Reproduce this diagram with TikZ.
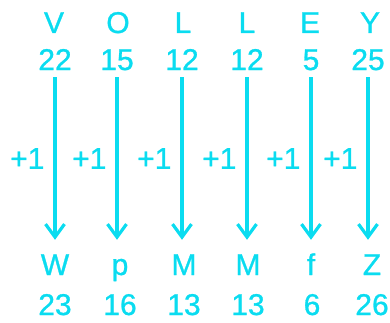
\documentclass[tikz,border=0pt]{standalone}
\usepackage{fontspec}
\setmainfont{Liberation Sans}[BoldFont=Liberation Sans, BoldFeatures={FakeBold=0.9}]
\usetikzlibrary{arrows.meta}
\definecolor{shiftcyan}{RGB}{10,220,240}
\tikzset{
    letter/.style={anchor=base, text=shiftcyan, text height=21pt, text depth=0pt, inner ysep=14pt, font=\fontsize{30}{31}\selectfont\bfseries},
    code/.style={anchor=base, text=shiftcyan, text height=21pt, text depth=0pt, inner ysep=7pt, font=\fontsize{30}{31}\selectfont\bfseries},
    plusone/.style={draw=shiftcyan, line width=3.2pt, -{Straight Barb[length=13pt, width=19pt]}}
}
\begin{document}
\begin{tikzpicture}[x=1pt, y=1pt]
        \useasboundingbox (0, 0) rectangle (390, 322);

        % Plain word
        \node[letter] (v) at (54, 289) {V};
        \node[letter] (o) at (118, 289) {O};
        \node[letter] (l1) at (183, 289) {L};
        \node[letter] (l2) at (247, 289) {L};
        \node[letter] (e) at (310, 289) {E};
        \node[letter] (y) at (370, 289) {Y};

        % Plain positions
        \node[code] (pv) at (55, 252) {22};
        \node[code] (po) at (117, 252) {15};
        \node[code] (pl1) at (182, 252) {12};
        \node[code] (pl2) at (247, 252) {12};
        \node[code] (pe) at (311, 252) {5};
        \node[code] (py) at (368, 252) {25};

        % Coded word
        \node[letter] (w) at (55, 47) {W};
        \node[letter] (p) at (120, 47) {p};
        \node[letter] (m1) at (184, 47) {M};
        \node[letter] (m2) at (248, 47) {M};
        \node[letter] (f) at (311, 47) {f};
        \node[letter] (z) at (372, 47) {Z};

        % Coded positions
        \node[code] (cw) at (55, 7) {23};
        \node[code] (cp) at (120, 7) {16};
        \node[code] (cm1) at (184, 7) {13};
        \node[code] (cm2) at (248, 7) {13};
        \node[code] (cf) at (312, 7) {6};
        \node[code] (cz) at (372, 7) {26};

        % Shifts
        \draw[plusone] (pv.south) -- node[midway, left, inner xsep=9pt, text=shiftcyan, font=\fontsize{30}{31}\selectfont\bfseries] {+1} (pv.south |- w.north);
        \draw[plusone] (po.south) -- node[midway, left, inner xsep=9pt, text=shiftcyan, font=\fontsize{30}{31}\selectfont\bfseries] {+1} (po.south |- p.north);
        \draw[plusone] (pl1.south) -- node[midway, left, inner xsep=9pt, text=shiftcyan, font=\fontsize{30}{31}\selectfont\bfseries] {+1} (pl1.south |- m1.north);
        \draw[plusone] (pl2.south) -- node[midway, left, inner xsep=9pt, text=shiftcyan, font=\fontsize{30}{31}\selectfont\bfseries] {+1} (pl2.south |- m2.north);
        \draw[plusone] (pe.south) -- node[midway, left, inner xsep=9pt, text=shiftcyan, font=\fontsize{30}{31}\selectfont\bfseries] {+1} (pe.south |- f.north);
        \draw[plusone] (py.south) -- node[midway, left, inner xsep=9pt, text=shiftcyan, font=\fontsize{30}{31}\selectfont\bfseries] {+1} (py.south |- z.north);
    \end{tikzpicture}
\end{document}
